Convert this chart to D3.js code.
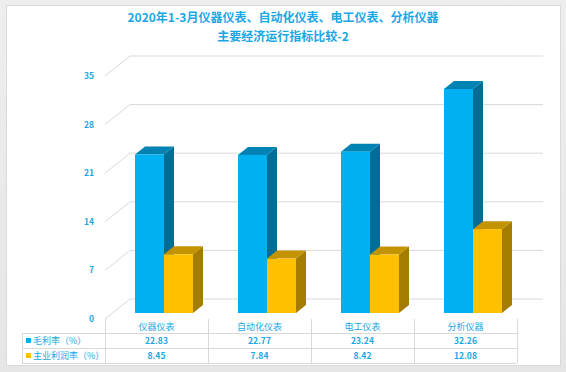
<!DOCTYPE html>
<html>
<head>
<meta charset="utf-8">
<script src="https://cdn.jsdelivr.net/npm/d3@7"></script>
<style>
  html, body { margin: 0; padding: 0; background: #ebebeb; }
  svg { display: block; font-family: "Noto Sans CJK SC", "Noto Sans", sans-serif; }
</style>
</head>
<body>
<svg id="chart" width="566" height="372"></svg>
<script>
// chart data
const categories = ['仪器仪表', '自动化仪表', '电工仪表', '分析仪器'];
const seriesNames = ['毛利率（%）', '主业利润率（%）'];
const grossMargin = [22.83, 22.77, 23.24, 32.26];
const profitMargin = [8.45, 7.84, 8.42, 12.08];
const yTicks = [0, 7, 14, 21, 28, 35];
const titleLines = ['2020年1-3月仪器仪表、自动化仪表、电工仪表、分析仪器', '主要经济运行指标比较-2'];

const seriesValues = [grossMargin, profitMargin];
const colors = [
  { front: '#00b0f0', top: '#0083b3', side: '#006d96' },
  { front: '#ffc000', top: '#c49300', side: '#a37c00' }
];

const svg = d3.select('#chart');
const textBlue = '#1aa7e6';

// panel
const bg = svg.append('defs').append('linearGradient').attr('id', 'bg')
  .attr('x1', 0).attr('y1', 0).attr('x2', 0).attr('y2', 1);
bg.append('stop').attr('offset', 0).attr('stop-color', '#eeeeee');
bg.append('stop').attr('offset', 1).attr('stop-color', '#e6e6e6');
svg.append('rect').attr('width', 566).attr('height', 372).attr('fill', 'url(#bg)');
svg.append('rect').attr('x', 6.5).attr('y', 5.5).attr('width', 554).attr('height', 360)
  .attr('fill', '#fff').attr('stroke', '#dadada');

// title
svg.selectAll('.title').data(titleLines).enter().append('text')
  .attr('class', 'title')
  .attr('x', 283).attr('y', (d, i) => 22 + i * 19)
  .attr('text-anchor', 'middle')
  .attr('font-size', 12).attr('font-weight', 'bold')
  .attr('fill', textBlue)
  .text(d => d);

// 3d geometry
const frontX0 = 105, frontX1 = 517, baseY = 319;
const depthX = 25, depthY = -20;
const barNear = 0.3, barFar = 0.7;

const y = d3.scaleLinear().domain([0, 35]).range([0, 243]);
const x = d3.scaleBand().domain(categories).range([frontX0, frontX1]);
const xs = d3.scaleBand().domain(d3.range(seriesNames.length)).range([0, x.bandwidth()])
  .paddingOuter(0.776);

const grid = svg.append('g').attr('stroke', '#d9d9d9').attr('fill', 'none');
yTicks.forEach(t => {
  const yf = baseY - y(t), yb = yf + depthY;
  grid.append('line').attr('x1', frontX0).attr('y1', yf).attr('x2', frontX0 + depthX).attr('y2', yb);
  grid.append('line').attr('x1', frontX0 + depthX).attr('y1', yb).attr('x2', frontX1 + depthX + 1).attr('y2', yb);
});

svg.append('g').selectAll('text').data(yTicks).enter().append('text')
  .attr('x', 94).attr('y', d => baseY - y(d) + 3)
  .attr('text-anchor', 'end')
  .attr('font-size', 8.5).attr('font-weight', 'bold')
  .attr('fill', textBlue)
  .text(d => d);

// bars
const bars = svg.append('g');
categories.forEach((c, ci) => {
  seriesValues.forEach((vals, si) => {
    const v = vals[ci];
    const x0 = x(c) + xs(si) + depthX * barNear;
    const w = xs.bandwidth();
    const yb = baseY + depthY * barNear;
    const h = y(v);
    const dx = depthX * (barFar - barNear), dy = depthY * (barFar - barNear);
    const col = colors[si];
    bars.append('path')
      .attr('d', `M${x0 + w},${yb}L${x0 + w + dx},${yb + dy}L${x0 + w + dx},${yb - h + dy}L${x0 + w},${yb - h}Z`)
      .attr('fill', col.side);
    bars.append('path')
      .attr('d', `M${x0},${yb - h}L${x0 + dx},${yb - h + dy}L${x0 + w + dx},${yb - h + dy}L${x0 + w},${yb - h}Z`)
      .attr('fill', col.top);
    bars.append('rect')
      .attr('x', x0).attr('y', yb - h).attr('width', w).attr('height', h)
      .attr('fill', col.front);
  });
});

// data table
const tbl = svg.append('g');
const rowY = [319, 333, 348, 363];
const labelX0 = 22;
const lineCol = '#d9d9d9';
rowY.slice(1).forEach(ry => {
  tbl.append('line').attr('x1', labelX0).attr('x2', frontX1).attr('y1', ry + 0.5).attr('y2', ry + 0.5)
    .attr('stroke', lineCol);
});
tbl.append('line').attr('x1', labelX0 + 0.5).attr('x2', labelX0 + 0.5).attr('y1', rowY[1]).attr('y2', rowY[3])
  .attr('stroke', lineCol);
categories.forEach(c => {
  tbl.append('line').attr('x1', x(c) + 0.5).attr('x2', x(c) + 0.5).attr('y1', rowY[0]).attr('y2', rowY[3])
    .attr('stroke', lineCol);
});
tbl.append('line').attr('x1', frontX1 + 0.5).attr('x2', frontX1 + 0.5).attr('y1', rowY[0]).attr('y2', rowY[3])
  .attr('stroke', lineCol);

tbl.selectAll('.cat').data(categories).enter().append('text')
  .attr('x', d => x(d) + x.bandwidth() / 2).attr('y', 330)
  .attr('text-anchor', 'middle').attr('font-size', 9).attr('fill', textBlue)
  .text(d => d);

seriesNames.forEach((name, si) => {
  const ty = rowY[si + 1] + 11;
  tbl.append('rect').attr('x', 26).attr('y', ty - 6).attr('width', 5).attr('height', 5)
    .attr('fill', colors[si].front);
  tbl.append('text').attr('x', 33).attr('y', ty).attr('font-size', 9).attr('fill', textBlue).text(name);
  tbl.selectAll('.v' + si).data(seriesValues[si]).enter().append('text')
    .attr('x', (d, i) => x(categories[i]) + x.bandwidth() / 2).attr('y', ty)
    .attr('text-anchor', 'middle').attr('font-size', 8.5).attr('font-weight', 'bold')
    .attr('fill', textBlue)
    .text(d => d.toFixed(2));
});
</script>
</body>
</html>
